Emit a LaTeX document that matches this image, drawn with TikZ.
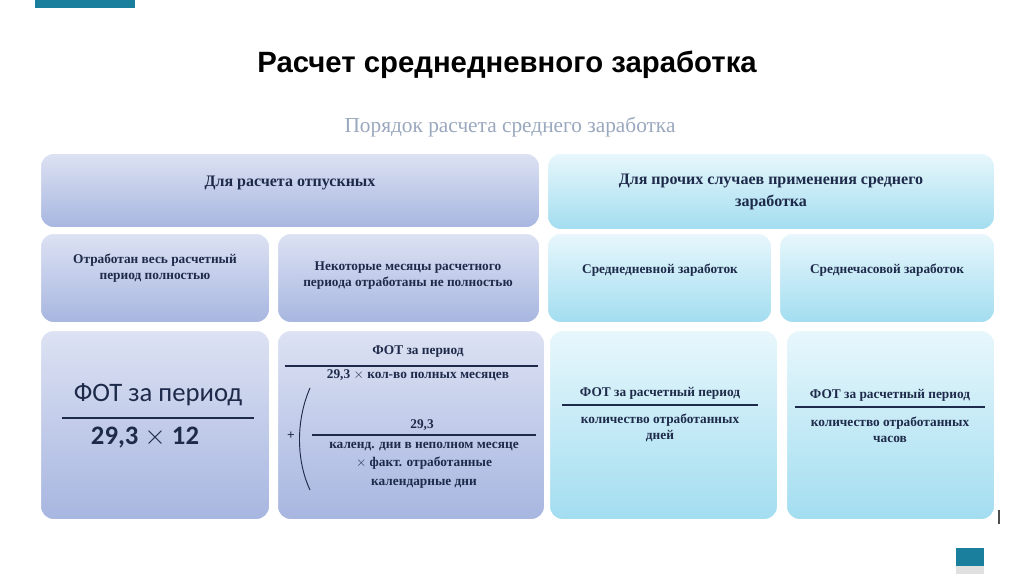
\documentclass[tikz,border=0pt]{standalone}
\usepackage{fontspec}
\setmainfont{Liberation Serif}
\newfontfamily\ttl{Liberation Sans}
\newfontfamily\frm{Carlito}
\definecolor{lavT}{HTML}{DDE2F3}
\definecolor{lavB}{HTML}{A7B6E0}
\definecolor{cyT}{HTML}{E8F7FC}
\definecolor{cyB}{HTML}{A2DDF0}
\definecolor{teal}{HTML}{1A7F9C}
\definecolor{txt}{HTML}{1E2A4A}
\definecolor{subc}{HTML}{9AA8BE}
\begin{document}
\begin{tikzpicture}[x=0.75pt,y=-0.75pt,
  lav/.style={rounded corners=10pt,draw=white,line width=1.5pt,top color=lavT,bottom color=lavB},
  cy/.style={rounded corners=10pt,draw=white,line width=1.5pt,top color=cyT,bottom color=cyB},
  bt/.style={font=\bfseries\fontsize{10}{12}\selectfont,text=txt,align=center}]
\useasboundingbox[fill=white] (0,0) rectangle (1024,574);
\fill[teal] (35,0) rectangle (135,8);
\node[font=\ttl\bfseries\fontsize{22}{26}\selectfont] (title) at (507,65) {Расчет среднедневного заработка};
\node[font=\fontsize{16}{18}\selectfont,text=subc] (sub) at (510,127) {Порядок расчета среднего заработка};
\path[lav] (40,153) rectangle (540,228);
\node[bt,font=\bfseries\fontsize{12}{14}\selectfont] (h1) at (290,183) {Для расчета отпускных};
\path[cy] (547,153) rectangle (995,230);
\node[bt,font=\bfseries\fontsize{12}{16}\selectfont] (h2) at (771,192) {Для прочих случаев применения среднего\\заработка};
\path[lav] (40,233) rectangle (270,323);
\node[bt] (a) at (155,268) {Отработан весь расчетный\\период полностью};
\path[lav] (277,233) rectangle (540,323);
\node[bt] (b) at (408,276) {Некоторые месяцы расчетного\\периода отработаны не полностью};
\path[cy] (547,233) rectangle (772,323);
\node[bt] (c) at (660,270) {Среднедневной заработок};
\path[cy] (779,233) rectangle (995,323);
\node[bt] (d) at (887,270) {Среднечасовой заработок};
\path[lav] (40,330) rectangle (270,520);
\node[font=\frm\fontsize{20}{24}\selectfont,text=txt] (e1) at (158,395) {ФОТ за период};
\draw[txt,line width=1.2pt] (62,418) -- (254,418);
\node[font=\frm\bfseries\fontsize{20}{24}\selectfont,text=txt] (e2) at (145,438) {29,3 $\times$ 12};
\path[lav] (277,330) rectangle (545,520);
\node[bt] (f1) at (418,352) {ФОТ за период};
\draw[txt,line width=0.8pt] (285,366) -- (538,366);
\node[bt] (f2) at (418,375) {29,3 $\times$ кол-во полных месяцев};
\node[bt] (f3) at (422,425) {29,3};
\draw[txt,line width=0.8pt] (312,435) -- (536,435);
\node[bt,font=\bfseries\fontsize{10}{14}\selectfont] (f4) at (424,465) {календ. дни в неполном месяце\\$\times$ факт. отработанные\\календарные дни};
\node[bt] (plus) at (291,436) {+};
\draw[txt,line width=0.7pt] (310,388) .. controls (296,420) and (296,460) .. (310,490);
\path[cy] (549,330) rectangle (778,520);
\node[bt] (g1) at (660,393) {ФОТ за расчетный период};
\draw[txt,line width=0.8pt] (562,405) -- (758,405);
\node[bt] (g2) at (660,428) {количество отработанных\\дней};
\path[cy] (786,330) rectangle (995,520);
\node[bt] (h1b) at (890,395) {ФОТ за расчетный период};
\draw[txt,line width=0.8pt] (795,407) -- (985,407);
\node[bt] (h2b) at (890,430) {количество отработанных\\часов};
\draw[black!70,line width=1pt] (999,510) -- (999,524);
\fill[teal] (956,548) rectangle (984,566);
\fill[black!12] (956,566) rectangle (984,574);
\end{tikzpicture}
\end{document}
